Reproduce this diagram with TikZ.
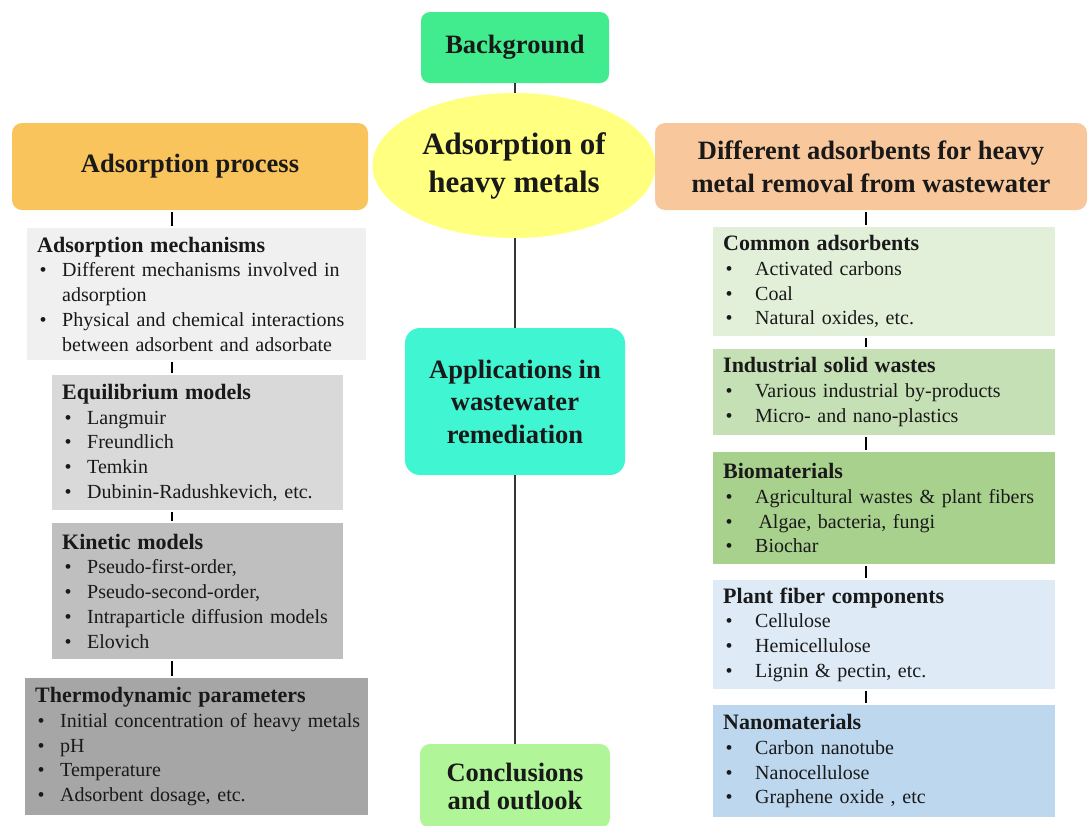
\documentclass[tikz,border=0pt]{standalone}
\usepackage{fontspec}
\setmainfont{Liberation Serif}
\usetikzlibrary{shapes.geometric}
\usetikzlibrary{calc}

\definecolor{txt}{RGB}{25,25,25}
\definecolor{bggreen}{RGB}{64,236,142}
\definecolor{hmyellow}{RGB}{255,255,128}
\definecolor{procorange}{RGB}{250,196,92}
\definecolor{rpeach}{RGB}{248,200,156}
\definecolor{appcyan}{RGB}{64,245,210}
\definecolor{concgreen}{RGB}{176,245,152}
\definecolor{grayA}{RGB}{240,240,240}
\definecolor{grayB}{RGB}{217,217,217}
\definecolor{grayC}{RGB}{191,191,191}
\definecolor{grayD}{RGB}{166,166,166}
\definecolor{greenA}{RGB}{226,240,217}
\definecolor{greenB}{RGB}{197,224,180}
\definecolor{greenC}{RGB}{169,209,142}
\definecolor{blueA}{RGB}{222,235,247}
\definecolor{blueB}{RGB}{189,215,238}

\hyphenpenalty=10000
\newlength{\bulind}
\newcommand{\hd}[1]{\noindent{\bfseries\fontsize{22}{24.8}\selectfont #1}\par}
\newcommand{\bul}[1]{\noindent\hangindent=\bulind\hangafter=1\makebox[\bulind][l]{\hspace{2.5pt}\textbullet}#1\par}

\begin{document}
\begin{tikzpicture}[x=1pt,y=-1pt,
		hbox/.style={rectangle,rounded corners=10pt,align=center,text=txt,font=\bfseries\fontsize{26.5}{33}\selectfont},
		listbox/.style={rectangle,anchor=north west,inner xsep=10pt,inner ysep=2pt,align=left,text=txt,font=\fontsize{20}{24.8}\selectfont},
		lbox/.style={listbox,execute at begin node={\setlength{\bulind}{25pt}}},
		rbox/.style={listbox,execute at begin node={\setlength{\bulind}{32pt}}},
		joint/.style={line width=2pt,black,shorten >=2pt,shorten <=2pt},
		link/.style={line width=1.3pt,black!80}]
	\useasboundingbox (0,0) rectangle (1089,825);
	\node[ellipse,fill=hmyellow,minimum width=283pt,minimum height=145pt,inner sep=0pt,align=center,text=txt,font=\bfseries\fontsize{31}{38}\selectfont] (hm) at (514,165.5) {Adsorption of\\heavy metals};
	\node[hbox,fill=bggreen,minimum width=188pt,minimum height=71pt,rounded corners=9pt] (bg) at (515,47.5) {Background};
	\node[hbox,fill=procorange,minimum width=356pt,minimum height=87pt] (proc) at (190,166.5) {Adsorption process};
	\node[hbox,fill=rpeach,minimum width=432pt,minimum height=87pt] (rtitle) at (871,166.5) {Different adsorbents for heavy\\metal removal from wastewater};
	\node[hbox,fill=appcyan,minimum width=220pt,minimum height=147pt,rounded corners=15pt,font=\bfseries\fontsize{26.5}{32.5}\selectfont] (app) at (515,401.5) {Applications in\\wastewater\\remediation};
	\node[hbox,fill=concgreen,minimum width=190pt,minimum height=84pt,font=\bfseries\fontsize{26.5}{28}\selectfont] (concl) at (515,786) {Conclusions\\and outlook};

	\node[lbox,fill=grayA,text width=319pt,minimum height=132pt] (mech) at (27,228) {\hd{Adsorption mechanisms}\bul{Different mechanisms involved in adsorption}\bul{Physical and chemical interactions between adsorbent and adsorbate}};
	\node[lbox,fill=grayB,text width=271pt,minimum height=135pt] (equi) at (52,375) {\hd{Equilibrium models}\bul{Langmuir}\bul{Freundlich}\bul{Temkin}\bul{Dubinin-Radushkevich, etc.}};
	\node[lbox,fill=grayC,text width=271pt,minimum height=136pt] (kin) at (52,523) {\hd{Kinetic models}\bul{Pseudo-first-order,}\bul{Pseudo-second-order,}\bul{Intraparticle diffusion models}\bul{Elovich}};
	\node[lbox,fill=grayD,text width=323pt,minimum height=137pt] (thermo) at (25,678) {\hd{Thermodynamic parameters}\bul{\mbox{Initial concentration of heavy metals}}\bul{pH}\bul{Temperature}\bul{Adsorbent dosage, etc.}};

	\node[rbox,fill=greenA,text width=322pt,minimum height=109pt] (common) at (713,227) {\hd{Common adsorbents}\bul{Activated carbons}\bul{Coal}\bul{Natural oxides, etc.}};
	\node[rbox,fill=greenB,text width=322pt,minimum height=86pt] (indus) at (713,349) {\hd{Industrial solid wastes}\bul{Various industrial by-products}\bul{Micro- and nano-plastics}};
	\node[rbox,fill=greenC,text width=322pt,minimum height=112pt] (bio) at (713,452) {\hd{Biomaterials}\bul{Agricultural wastes \& plant fibers}\bul{\,Algae, bacteria, fungi}\bul{Biochar}};
	\node[rbox,fill=blueA,text width=322pt,minimum height=109pt] (plant) at (713,580) {\hd{Plant fiber components}\bul{Cellulose}\bul{Hemicellulose}\bul{Lignin \& pectin, etc.}};
	\node[rbox,fill=blueB,text width=322pt,minimum height=112pt] (nano) at (713,705) {\hd{Nanomaterials}\bul{Carbon nanotube}\bul{Nanocellulose}\bul{Graphene oxide , etc}};

	\coordinate (lx) at (172,0);
	\coordinate (rx) at (866,0);
	\draw[link] (bg.south) -- (hm.north -| bg.south);
	\draw[link] (hm.south -| app.north) -- (app.north);
	\draw[link] (app.south) -- (concl.north);
	\draw[joint] (proc.south -| lx) -- (mech.north -| lx);
	\draw[joint] (mech.south -| lx) -- (equi.north -| lx);
	\draw[joint] (equi.south -| lx) -- (kin.north -| lx);
	\draw[joint] (kin.south -| lx) -- (thermo.north -| lx);
	\draw[joint] (rtitle.south -| rx) -- (common.north -| rx);
	\draw[joint] (common.south -| rx) -- (indus.north -| rx);
	\draw[joint] (indus.south -| rx) -- (bio.north -| rx);
	\draw[joint] (bio.south -| rx) -- (plant.north -| rx);
	\draw[joint] (plant.south -| rx) -- (nano.north -| rx);
\end{tikzpicture}
\end{document}
